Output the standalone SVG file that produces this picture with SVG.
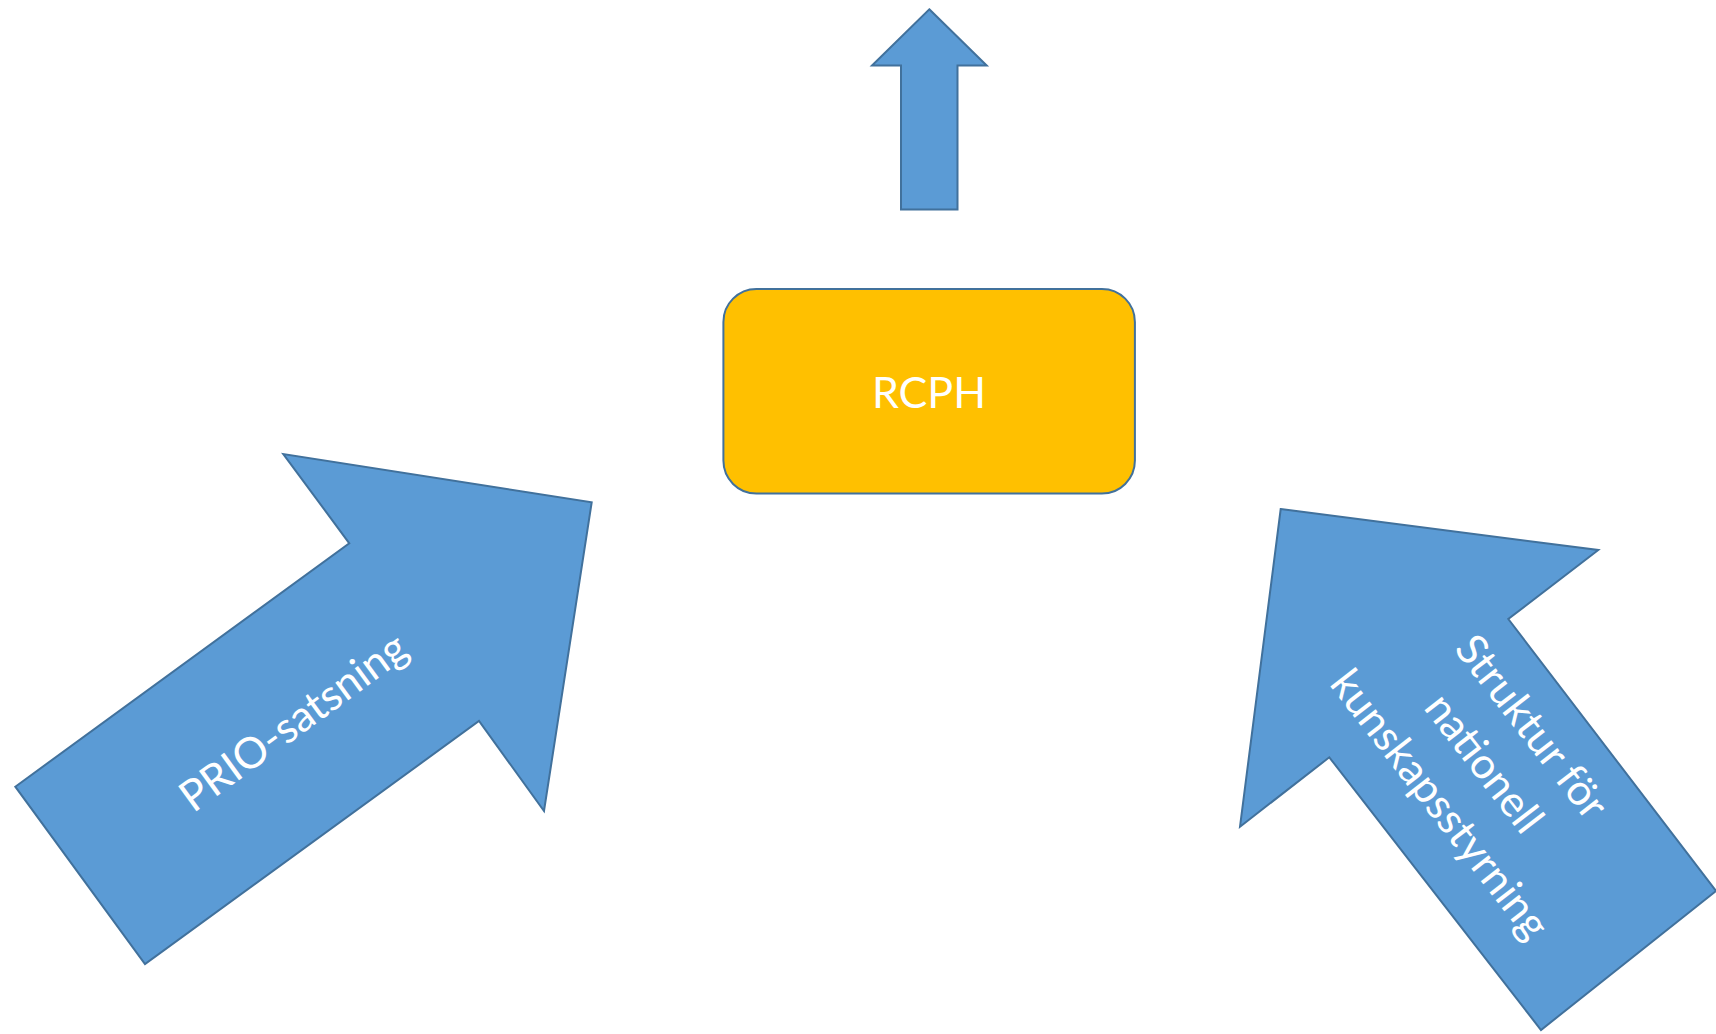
<svg xmlns="http://www.w3.org/2000/svg" width="1716" height="1034" viewBox="0 0 1716 1034">
  <style>
    .arrow { fill: #5B9BD5; stroke: #41719C; stroke-width: 2; stroke-linejoin: miter; }
    .box { fill: #FFC000; stroke: #41719C; stroke-width: 2; }
    .lbl { font-family: Lato, "Open Sans", sans-serif; font-size: 43px; fill: #FFFFFF; stroke: none; text-anchor: middle; }
  </style>
  <rect x="0" y="0" width="1716" height="1034" fill="#FFFFFF"/>
  <g id="connectors">
    <g id="arrow-up">
      <polygon class="arrow" points="929.3,9.3 986.7,65.5 957.5,65.5 957.5,209.5 901,209.5 901,65.5 872,65.5"/>
    </g>
    <g id="arrow-prio">
      <polygon class="arrow" points="15.3,786.7 349.3,543.3 283.3,454 591.7,502.3 544,811 479,721 145,964"/>
      <text class="lbl" transform="translate(302,734) rotate(-36.2)" x="0" y="0">PRIO-satsning</text>
    </g>
    <g id="arrow-struktur">
      <polygon class="arrow" points="1280.7,509 1598.3,550 1508.3,619 1716,891 1541,1030 1329.3,757.3 1240,826.7"/>
      <text class="lbl" transform="translate(1483,771) rotate(52.3)">
        <tspan x="0" y="-51">Struktur för</tspan>
        <tspan x="0" y="9">nationell</tspan>
        <tspan x="0" y="69">kunskapsstyrning</tspan>
      </text>
    </g>
  </g>
  <g id="node-rcph">
    <rect class="box" x="723.4" y="289" width="411.5" height="204.6" rx="33" ry="33"/>
    <text class="lbl" x="929" y="408">RCPH</text>
  </g>
</svg>
